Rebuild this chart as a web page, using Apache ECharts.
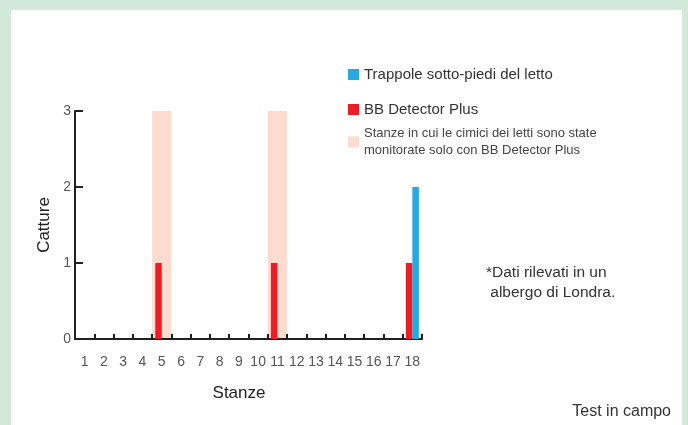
<!DOCTYPE html>
<html>
<head>
<meta charset="utf-8">
<script src="https://cdn.jsdelivr.net/npm/echarts@6/dist/echarts.min.js"></script>
<style>
html,body{margin:0;padding:0;background:#d2e8d8;}
#wrap{position:absolute;left:11px;top:10px;width:671px;height:415px;background:#fff;}
#chart{position:absolute;left:0;top:0;width:688px;height:425px;}
</style>
</head>
<body>
<div id="wrap"></div>
<div id="chart"></div>
<script>
const rooms = ['1','2','3','4','5','6','7','8','9','10','11','12','13','14','15','16','17','18'];
const bbDetector = [0,0,0,0,1,0,0,0,0,0,1,0,0,0,0,0,0,1];
const trappole = [0,0,0,0,0,0,0,0,0,0,0,0,0,0,0,0,0,2];
const monitored = [null,null,null,null,3,null,null,null,null,null,3,null,null,null,null,null,null,null];
const yTicks = [0,1,2,3];

const nameBlue = 'Trappole sotto-piedi del letto';
const nameRed = 'BB Detector Plus';
const nameBand = 'Stanze in cui le cimici dei letti sono state monitorate solo con BB Detector Plus';

const FONT = 'Liberation Sans, Arial, sans-serif';
const chart = echarts.init(document.getElementById('chart'));
chart.setOption({
  animation: false,
  textStyle: {fontFamily: FONT},
  grid: {left: 75, right: 266, top: 111, bottom: 86},
  legend: [
    {data: [nameBlue], left: 343, top: 62, icon: 'rect', itemWidth: 11, itemHeight: 11, selectedMode: false,
     textStyle: {fontSize: 15, color: '#333', fontFamily: FONT}},
    {data: [nameRed], left: 343, top: 97, icon: 'rect', itemWidth: 11, itemHeight: 11, selectedMode: false,
     textStyle: {fontSize: 15, color: '#333', fontFamily: FONT}},
    {data: [nameBand], left: 343, top: 120, icon: 'rect', itemWidth: 11, itemHeight: 11, selectedMode: false,
     formatter: function(){ return 'Stanze in cui le cimici dei letti sono state\nmonitorate solo con BB Detector Plus'; },
     textStyle: {fontSize: 13, lineHeight: 17, color: '#444', fontFamily: FONT}}
  ],
  xAxis: [
    {type: 'category', data: rooms, boundaryGap: true, position: 'bottom',
     name: 'Stanze', nameLocation: 'middle', nameGap: 46,
     nameTextStyle: {fontSize: 17, color: '#222', padding: [0, 19, 0, 0]},
     axisLine: {show: true, lineStyle: {color: '#231f20', width: 2}},
     axisTick: {show: true, inside: true, length: 5, interval: 0, alignWithLabel: false,
       lineStyle: {color: '#231f20', width: 2}},
     axisLabel: {margin: 16, fontSize: 14, color: '#555', interval: 0, hideOverlap: false}},
    {type: 'category', data: rooms, show: false, position: 'bottom'}
  ],
  yAxis: {type: 'value', min: 0, max: 3, interval: 1,
     name: 'Catture', nameLocation: 'middle', nameGap: 22, nameRotate: 90,
     nameTextStyle: {fontSize: 17, color: '#222'},
     axisLine: {show: true, lineStyle: {color: '#231f20', width: 2}},
     axisTick: {show: true, inside: true, length: 8, lineStyle: {color: '#231f20', width: 2}},
     axisLabel: {margin: 4, fontSize: 14, color: '#555',
       formatter: function(v){ return yTicks.indexOf(v) >= 0 ? String(v) : ''; }},
     splitLine: {show: false}},
  series: [
    {name: nameBand, type: 'bar', xAxisIndex: 1, data: monitored, barWidth: '100%', z: -1,
     itemStyle: {color: '#fddccf'}},
    {name: nameRed, type: 'bar', data: bbDetector, barWidth: 6.5, barGap: '0%',
     itemStyle: {color: '#ee1c25'}},
    {name: nameBlue, type: 'bar', data: trappole, barWidth: 6.5, barGap: '0%',
     itemStyle: {color: '#27a9e1'}}
  ],
  graphic: [
    {type: 'text', left: 486, top: 263, style: {text: '*Dati rilevati in un\n albergo di Londra.', lineHeight: 20, fill: '#333', font: '15.5px ' + FONT}},
    {type: 'text', right: 17, top: 404, style: {text: 'Test in campo', fill: '#333', font: '16px ' + FONT}}
  ]
});
</script>
</body>
</html>
